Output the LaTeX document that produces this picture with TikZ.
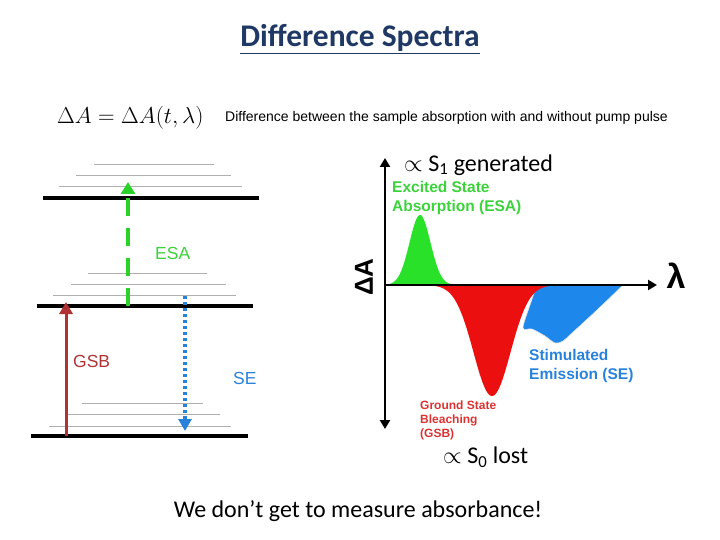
\RequirePackage{fix-cm}
\documentclass[tikz,border=0pt]{standalone}
\usepackage{fontspec}
\setmainfont{Carlito}
\newfontfamily\arialf{Liberation Sans}
\usetikzlibrary{arrows.meta}
\definecolor{titleblue}{RGB}{31,56,100}
\definecolor{esagreen}{RGB}{40,210,40}
\definecolor{esatext}{RGB}{60,210,60}
\definecolor{gsbred}{RGB}{176,50,50}
\definecolor{sebluel}{RGB}{40,130,220}
\definecolor{fillgreen}{RGB}{40,225,40}
\definecolor{fillred}{RGB}{235,15,15}
\definecolor{fillblue}{RGB}{30,135,235}
\definecolor{gsbtext}{RGB}{220,50,50}
\definecolor{thingray}{RGB}{175,175,175}
\tikzset{
  level/.style={line width=3.6pt,black},
  sublevel/.style={line width=0.9pt,thingray},
  lbl/.style={inner sep=0pt,anchor=west,font=\arialf\fontsize{17.5}{19}\selectfont},
  plotlbl/.style={inner sep=0pt,anchor=west,align=left,font=\arialf\bfseries\fontsize{15.5}{19}\selectfont},
  axisline/.style={line width=2.6pt,black,-{Triangle[width=10pt,length=9pt]}},
}
\begin{document}
\begin{tikzpicture}[x=1pt,y=-1pt]
\useasboundingbox (0,0) rectangle (720,540);
% title
\node[inner sep=0pt,text=titleblue,font=\bfseries\fontsize{31.5}{34}\selectfont] (title) at (360,39) {\underline{Difference Spectra}};
% equation line
\node[inner sep=0pt,anchor=west,font=\fontsize{23}{25}\selectfont] (eq) at (57,118) {$\Delta A=\Delta A(t,\lambda)$};
\node[inner sep=0pt,anchor=west,font=\arialf\fontsize{14}{16}\selectfont] (def) at (225,118) {Difference between the sample absorption with and without pump pulse};
% energy levels
\draw[sublevel] (94,164) -- (214,164);
\draw[sublevel] (76,175) -- (231,175);
\draw[sublevel] (59,186) -- (242,186);
\draw[sublevel] (88,273) -- (207,273);
\draw[sublevel] (71,284) -- (226,284);
\draw[sublevel] (53,295) -- (236,295);
\draw[sublevel] (82,403) -- (203,403);
\draw[sublevel] (66,414) -- (220,414);
\draw[sublevel] (49,426) -- (231,426);
\draw[level] (43,198) -- (259,198);
\draw[level] (37,306) -- (253,306);
\draw[level] (31,436) -- (248,436);
% transitions
\coordinate (esaS) at (128,306);
\coordinate (esaE) at (128,182);
\coordinate (gsbS) at (66,436);
\coordinate (gsbE) at (66,302);
\coordinate (seS) at (185,296);
\coordinate (seE) at (185,431);
\draw[esagreen,line width=4pt,dash pattern=on 18pt off 12pt,-{Triangle[width=14pt,length=12pt]}] (esaS) -- (esaE);
\draw[gsbred,line width=3pt,-{Triangle[width=13pt,length=12pt]}] (gsbS) -- (gsbE);
\draw[sebluel,line width=3.5pt,dash pattern=on 3pt off 3pt,-{Triangle[width=13pt,length=12pt]}] (seS) -- (seE);
\node[lbl,text=esatext] (esalbl) at (155,253) {ESA};
\node[lbl,text=gsbred] (gsblbl) at (73,361) {GSB};
\node[lbl,text=sebluel] (selbl) at (233,378) {SE};
% spectra
\fill[fillblue,draw=black!12,line width=0.6pt] plot[smooth,tension=0.5] coordinates {(537,285) (530,305) (523,328) (532,329) (545,336) (555,343) (563,341) (572,333) (597,310) (623,285)} -- cycle;
\fill[fillred] plot[domain=425:560,samples=120] (\x,{285+111*exp(-((\x-492)/18.5)^2/2)}) -- cycle;
\fill[fillgreen] plot[domain=385:458,samples=80] (\x,{285-70*exp(-((\x-420)/10.5)^2/2)}) -- cycle;
% axes
\coordinate (orig) at (385,285);
\coordinate (ytop) at (385,158);
\coordinate (ybot) at (385,429);
\coordinate (xend) at (657,285);
\draw[axisline,{Triangle[width=10pt,length=9pt]}-{Triangle[width=10pt,length=9pt]}] (ybot) -- (ytop);
\draw[axisline] (orig) -- (xend);
\node[inner sep=0pt,font=\arialf\bfseries\fontsize{34}{34}\selectfont] (lam) at (676,276) {λ};
\node[inner sep=0pt,rotate=90,font=\arialf\bfseries\fontsize{26}{26}\selectfont] (dA) at (364,277) {ΔA};
% plot labels
\node[plotlbl,text=esatext] (esat) at (392,198) {Excited State\\Absorption (ESA)};
\node[plotlbl,text=sebluel] (set) at (529,366) {Stimulated\\Emission (SE)};
\node[inner sep=0pt,anchor=west,align=left,text=gsbtext,font=\arialf\bfseries\fontsize{12}{14}\selectfont] (gsbt) at (420,420) {Ground State\\Bleaching\\(GSB)};
\node[inner sep=0pt,anchor=west,font=\fontsize{24}{26}\selectfont] (s1) at (404,165) {$\propto$ S\textsubscript{1} generated};
\node[inner sep=0pt,anchor=west,font=\fontsize{24}{26}\selectfont] (s0) at (443,457) {$\propto$ S\textsubscript{0} lost};
% bottom
\node[inner sep=0pt,font=\fontsize{24}{26}\selectfont] (bottom) at (358,511) {We don’t get to measure absorbance!};
\end{tikzpicture}
\end{document}
